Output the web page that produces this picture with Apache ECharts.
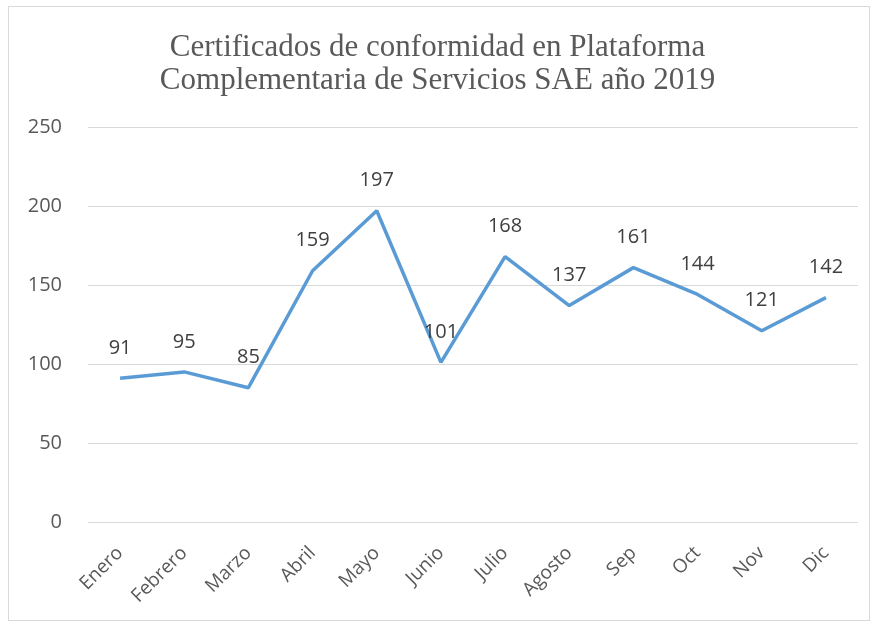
<!DOCTYPE html>
<html lang="es">
<head>
    <meta charset="UTF-8">
    <script src="https://cdn.jsdelivr.net/npm/echarts@6/dist/echarts.min.js"></script>
    <title>Certificados SAE 2019</title>
    <style>
        html, body { margin: 0; padding: 0; background: #fff; }
        #frame { position: absolute; left: 8px; top: 6px; width: 862px; height: 615px; border: 1px solid #d9d9d9; box-sizing: border-box; }
        #chart { position: absolute; left: 0; top: 0; width: 875px; height: 626px; }
    </style>
</head>
<body>
    <div id="frame"></div>
    <div id="chart"></div>
<script>
    // meses y certificados emitidos
    const months = ['Enero', 'Febrero', 'Marzo', 'Abril', 'Mayo', 'Junio', 'Julio', 'Agosto', 'Sep', 'Oct', 'Nov', 'Dic']
    const certificates = [91, 95, 85, 159, 197, 101, 168, 137, 161, 144, 121, 142]
    const titleLines = ['Certificados de conformidad en Plataforma', 'Complementaria de Servicios SAE año 2019']

    var chart = echarts.init(document.getElementById('chart'))
    var option = {
        animation: false,
        title: {
            text: titleLines.join('\n'),
            left: 'center',
            top: 26,
            textStyle: {
                fontFamily: 'Liberation Serif',
                fontSize: 31,
                fontWeight: 'normal',
                color: '#595959',
                lineHeight: 33
            }
        },
        grid: { left: 88, right: 17, top: 127, bottom: 104 },
        xAxis: {
            type: 'category',
            data: months,
            boundaryGap: true,
            axisLine: { show: false },
            axisTick: { show: false },
            axisLabel: {
                rotate: 45,
                margin: 28,
                fontFamily: 'Open Sans',
                fontSize: 19,
                color: '#595959'
            }
        },
        yAxis: {
            type: 'value',
            min: 0,
            max: 250,
            interval: 50,
            axisLabel: {
                margin: 26,
                fontFamily: 'Open Sans',
                fontSize: 20,
                color: '#595959'
            },
            splitLine: { lineStyle: { color: '#d9d9d9', width: 1 } }
        },
        series: [{
            type: 'line',
            data: certificates,
            symbol: 'circle',
            symbolSize: 0.1,
            showSymbol: true,
            lineStyle: { color: '#5b9bd5', width: 3.5 },
            itemStyle: { color: '#5b9bd5' },
            label: {
                show: true,
                position: 'top',
                distance: 20,
                fontFamily: 'Open Sans',
                fontSize: 20,
                color: '#404040'
            }
        }]
    }
    chart.setOption(option)
</script>
</body>
</html>
